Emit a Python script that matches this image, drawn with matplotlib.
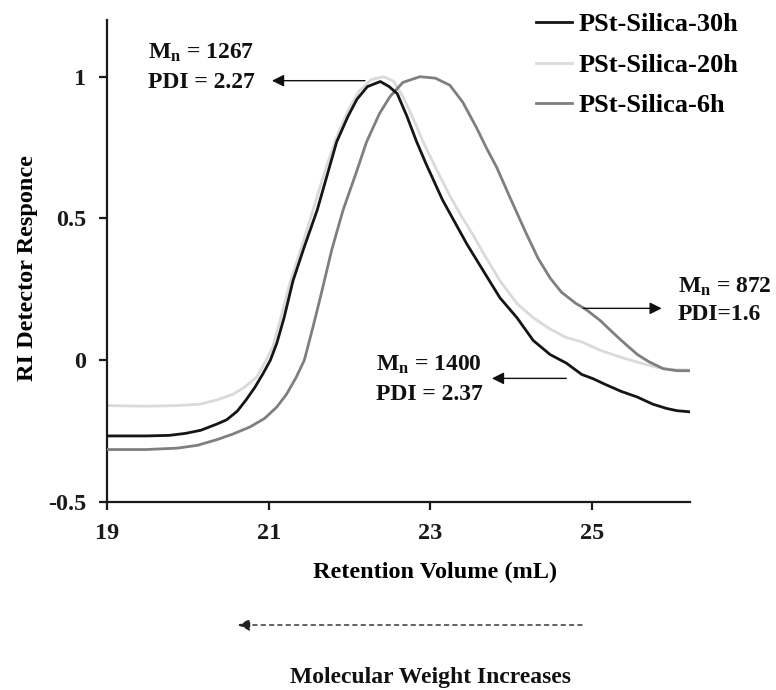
import matplotlib
matplotlib.use("Agg")
import matplotlib.pyplot as plt
from matplotlib.patches import FancyArrowPatch

# Retention volume (mL) and RI detector response for each sample
vol_30h = [19.0, 19.48, 19.77, 19.97, 20.16, 20.36, 20.48, 20.61, 20.72, 20.83, 20.93, 21.02,
           21.10, 21.19, 21.30, 21.44, 21.60, 21.73, 21.84, 21.98, 22.09, 22.22, 22.38, 22.49,
           22.59, 22.71, 22.83, 22.95, 23.15, 23.45, 23.73, 23.86, 24.07, 24.27, 24.48, 24.68,
           24.87, 25.01, 25.16, 25.36, 25.56, 25.75, 25.92, 26.05, 26.21]
ri_30h = [-0.267, -0.267, -0.265, -0.258, -0.247, -0.225, -0.21, -0.18, -0.14, -0.095, -0.047, 0.0,
          0.06, 0.15, 0.28, 0.40, 0.53, 0.66, 0.77, 0.86, 0.92, 0.965, 0.983, 0.965,
          0.94, 0.86, 0.77, 0.69, 0.565, 0.41, 0.28, 0.22, 0.15, 0.07, 0.02, -0.01,
          -0.05, -0.065, -0.085, -0.11, -0.13, -0.155, -0.17, -0.178, -0.182]

vol_20h = [19.0, 19.48, 19.87, 20.15, 20.36, 20.56, 20.70, 20.85, 20.95, 21.05, 21.14, 21.27,
           21.44, 21.57, 21.71, 21.83, 21.98, 22.12, 22.27, 22.42, 22.54, 22.66, 22.79, 22.91,
           23.08, 23.24, 23.40, 23.53, 23.65, 23.86, 24.07, 24.27, 24.48, 24.68, 24.87, 25.10,
           25.36, 25.60, 25.80, 26.00, 26.21]
ri_20h = [-0.16, -0.162, -0.16, -0.155, -0.14, -0.12, -0.095, -0.06, -0.01, 0.047, 0.14, 0.28,
          0.43, 0.55, 0.68, 0.78, 0.88, 0.95, 0.99, 1.0, 0.985, 0.93, 0.85, 0.77,
          0.67, 0.58, 0.50, 0.44, 0.38, 0.28, 0.20, 0.15, 0.11, 0.08, 0.065, 0.035,
          0.01, -0.01, -0.025, -0.033, -0.035]

vol_6h = [19.0, 19.48, 19.87, 20.12, 20.36, 20.56, 20.77, 20.95, 21.10, 21.22, 21.34, 21.44,
          21.55, 21.65, 21.78, 21.92, 22.08, 22.21, 22.37, 22.50, 22.66, 22.87, 23.06, 23.24,
          23.40, 23.57, 23.69, 23.82, 23.99, 24.18, 24.33, 24.48, 24.62, 24.80, 24.92, 25.10,
          25.21, 25.36, 25.56, 25.70, 25.88, 26.05, 26.21]
ri_6h = [-0.315, -0.315, -0.31, -0.30, -0.28, -0.26, -0.235, -0.205, -0.165, -0.12, -0.06, 0.0,
         0.12, 0.235, 0.39, 0.53, 0.66, 0.77, 0.87, 0.93, 0.98, 1.0, 0.995, 0.97,
         0.91, 0.82, 0.75, 0.68, 0.57, 0.45, 0.36, 0.29, 0.24, 0.20, 0.18, 0.14,
         0.11, 0.07, 0.02, -0.005, -0.03, -0.037, -0.037]

series_labels = ["PSt-Silica-30h", "PSt-Silica-20h", "PSt-Silica-6h"]
x_ticks = [19, 21, 23, 25]
y_ticks = [-0.5, 0, 0.5, 1]
y_tick_labels = ["-0.5", "0", "0.5", "1"]

SERIF = "Liberation Serif"
plt.rcParams["font.family"] = SERIF
plt.rcParams["font.weight"] = "bold"
plt.rcParams["mathtext.fontset"] = "custom"
plt.rcParams["mathtext.rm"] = SERIF + ":bold"
plt.rcParams["mathtext.it"] = SERIF + ":bold"
plt.rcParams["mathtext.bf"] = SERIF + ":bold"

W, H = 776, 690
fig = plt.figure(figsize=(W / 100, H / 100), dpi=100)
ax = fig.add_axes([107 / W, 1 - 502 / H, (690 - 107) / W, (502 - 20) / H])


def fx(px):
    return px / W


def fy(py):
    return 1 - py / H


lw = 2.0
ax.plot(vol_30h, ri_30h, color="#151515", lw=lw, label=series_labels[0], zorder=4)
ax.plot(vol_20h, ri_20h, color="#dadada", lw=lw, label=series_labels[1], zorder=2)
ax.plot(vol_6h, ri_6h, color="#7f7f7f", lw=lw, label=series_labels[2], zorder=3)

ax.set_xlim(19, 26.21)
ax.set_ylim(-0.5, 1.2)
ax.set_xticks(x_ticks)
ax.set_yticks(y_ticks)
ax.set_yticklabels(y_tick_labels)

for side in ("top", "right"):
    ax.spines[side].set_visible(False)
for side in ("left", "bottom"):
    ax.spines[side].set_linewidth(1.6)
    ax.spines[side].set_color("#1a1a1a")
ax.tick_params(direction="out", length=6, width=1.6, labelsize=17.5, pad=9, colors="#1a1a1a")
for lab in ax.get_xticklabels() + ax.get_yticklabels():
    lab.set_fontweight("bold")

ax.set_xlabel("Retention Volume (mL)", fontsize=17.5, fontweight="bold")
ax.xaxis.set_label_coords((435 - 107) / 583, (502 - 572) / 482)
ax.xaxis.label.set_va("center")
ax.set_ylabel("RI Detector Responce", fontsize=17.5, fontweight="bold")
ax.yaxis.set_label_coords((27 - 107) / 583, (502 - 268) / 482)
ax.yaxis.label.set_va("center")

ax.legend(loc="upper left", bbox_to_anchor=(fx(536), fy(13)), bbox_transform=fig.transFigure,
          frameon=False, borderpad=0, borderaxespad=0,
          prop={"family": SERIF, "weight": "bold", "size": 19},
          handlelength=1.36, handletextpad=0.25, labelspacing=0.64)

# Annotations with their arrows
arrow_kw = dict(arrowstyle="-|>", color="#111111", lw=1.0, mutation_scale=18,
                shrinkA=0, shrinkB=0)
txt_kw = dict(fontsize=17, fontweight="bold", color="#111111", va="center", ha="left")

ax.annotate("", xy=(21.04, 0.986), xytext=(22.19, 0.986), arrowprops=arrow_kw)
fig.text(fx(148), fy(53), r"$\mathrm{M_n}$ = 1267", **txt_kw)
fig.text(fx(148), fy(82), "PDI = 2.27", **txt_kw)

ax.annotate("", xy=(23.76, -0.064), xytext=(24.68, -0.064), arrowprops=arrow_kw)
fig.text(fx(376), fy(365), r"$\mathrm{M_n}$ = 1400", **txt_kw)
fig.text(fx(376), fy(395), "PDI = 2.37", **txt_kw)

ax.annotate("", xy=(25.86, 0.183), xytext=(24.89, 0.183), arrowprops=arrow_kw,
            annotation_clip=False)
fig.text(fx(678), fy(287), r"$\mathrm{M_n}$ = 872", **txt_kw)
fig.text(fx(678), fy(315), "PDI=1.6", **txt_kw)

# Direction of increasing molecular weight, below the axes
fig.patches.append(FancyArrowPatch(
    (fx(582), fy(625)), (fx(238), fy(625)), transform=fig.transFigure,
    arrowstyle="-|>", linestyle=(0, (3, 3)), lw=1.0, color="#222222",
    mutation_scale=18, shrinkA=0, shrinkB=0))
fig.text(fx(431), fy(678), "Molecular Weight Increases", ha="center", va="center",
         fontsize=17, fontweight="bold", color="#111111")

fig.savefig("out.png", dpi=100, facecolor="white")
